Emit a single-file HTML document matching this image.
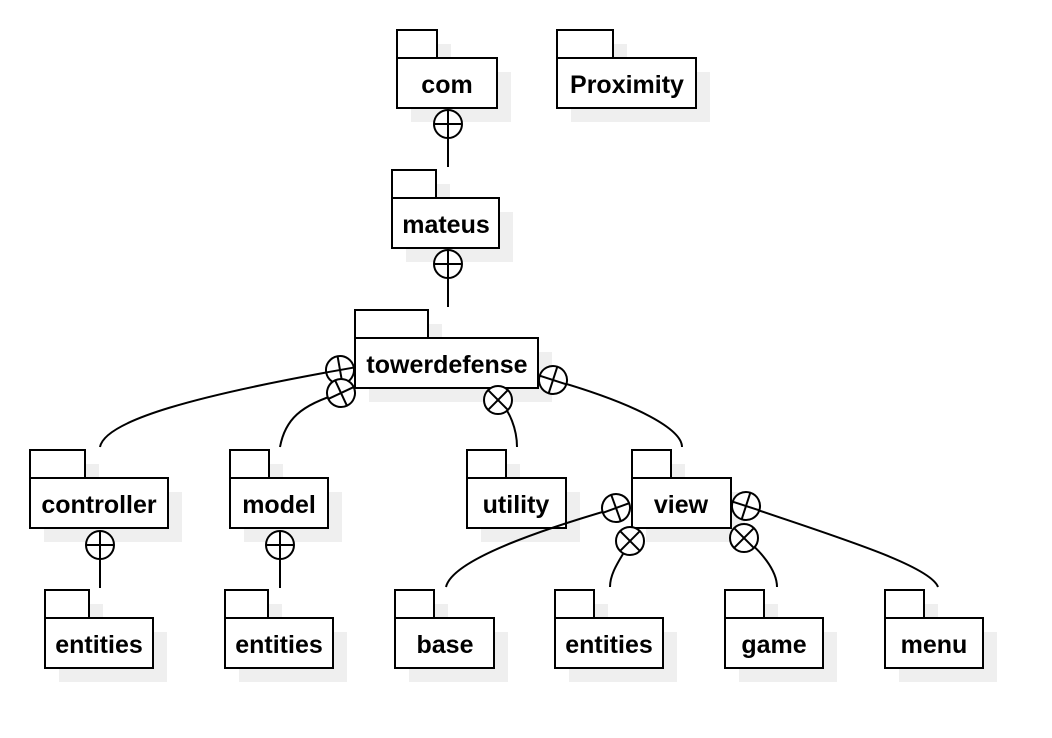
<!DOCTYPE html>
<html><head><style>
html,body{margin:0;padding:0;background:#fff;}
svg{display:block;}
text{font-family:"Liberation Sans",sans-serif;font-weight:bold;font-size:25px;}
</style></head><body>
<svg width="1052" height="738" viewBox="0 0 1052 738" xmlns="http://www.w3.org/2000/svg">
<defs>
<g id="c"><circle r="14" fill="#fff" stroke="#000" stroke-width="2"/><line x1="-14" y1="0" x2="14" y2="0" stroke="#000" stroke-width="2"/><line x1="0" y1="-14" x2="0" y2="14" stroke="#000" stroke-width="2"/></g>
</defs>
<g fill="#efefef">
<rect x="411" y="44" width="40" height="28"/><rect x="411" y="72" width="100" height="50"/>
<rect x="571" y="44" width="56" height="28"/><rect x="571" y="72" width="139" height="50"/>
<rect x="406" y="184" width="44" height="28"/><rect x="406" y="212" width="107" height="50"/>
<rect x="369" y="324" width="73" height="28"/><rect x="369" y="352" width="183" height="50"/>
<rect x="44" y="464" width="55" height="28"/><rect x="44" y="492" width="138" height="50"/>
<rect x="244" y="464" width="39" height="28"/><rect x="244" y="492" width="98" height="50"/>
<rect x="481" y="464" width="39" height="28"/><rect x="481" y="492" width="99" height="50"/>
<rect x="646" y="464" width="39" height="28"/><rect x="646" y="492" width="99" height="50"/>
<rect x="59" y="604" width="44" height="28"/><rect x="59" y="632" width="108" height="50"/>
<rect x="239" y="604" width="43" height="28"/><rect x="239" y="632" width="108" height="50"/>
<rect x="409" y="604" width="39" height="28"/><rect x="409" y="632" width="99" height="50"/>
<rect x="569" y="604" width="39" height="28"/><rect x="569" y="632" width="108" height="50"/>
<rect x="739" y="604" width="39" height="28"/><rect x="739" y="632" width="98" height="50"/>
<rect x="899" y="604" width="39" height="28"/><rect x="899" y="632" width="98" height="50"/>
</g>
<g fill="#fff" stroke="#000" stroke-width="2">
<rect x="397" y="30" width="40" height="28"/><rect x="397" y="58" width="100" height="50"/>
<rect x="557" y="30" width="56" height="28"/><rect x="557" y="58" width="139" height="50"/>
<rect x="392" y="170" width="44" height="28"/><rect x="392" y="198" width="107" height="50"/>
<rect x="355" y="310" width="73" height="28"/><rect x="355" y="338" width="183" height="50"/>
<rect x="30" y="450" width="55" height="28"/><rect x="30" y="478" width="138" height="50"/>
<rect x="230" y="450" width="39" height="28"/><rect x="230" y="478" width="98" height="50"/>
<rect x="467" y="450" width="39" height="28"/><rect x="467" y="478" width="99" height="50"/>
<rect x="632" y="450" width="39" height="28"/><rect x="632" y="478" width="99" height="50"/>
<rect x="45" y="590" width="44" height="28"/><rect x="45" y="618" width="108" height="50"/>
<rect x="225" y="590" width="43" height="28"/><rect x="225" y="618" width="108" height="50"/>
<rect x="395" y="590" width="39" height="28"/><rect x="395" y="618" width="99" height="50"/>
<rect x="555" y="590" width="39" height="28"/><rect x="555" y="618" width="108" height="50"/>
<rect x="725" y="590" width="39" height="28"/><rect x="725" y="618" width="98" height="50"/>
<rect x="885" y="590" width="39" height="28"/><rect x="885" y="618" width="98" height="50"/>
</g>
<g text-anchor="middle">
<text x="447" y="93">com</text>
<text x="627" y="93">Proximity</text>
<text x="446" y="233">mateus</text>
<text x="447" y="373">towerdefense</text>
<text x="99" y="513">controller</text>
<text x="279" y="513">model</text>
<text x="516" y="513">utility</text>
<text x="681" y="513">view</text>
<text x="99" y="653">entities</text>
<text x="279" y="653">entities</text>
<text x="445" y="653">base</text>
<text x="609" y="653">entities</text>
<text x="774" y="653">game</text>
<text x="934" y="653">menu</text>
</g>
<g fill="none" stroke="#000" stroke-width="2">
<line x1="448" y1="124" x2="448" y2="167"/>
<line x1="448" y1="264" x2="448" y2="307"/>
<line x1="100" y1="545" x2="100" y2="588"/>
<line x1="280" y1="545" x2="280" y2="588"/>
<path d="M100,447 C105,420 200,395 340,370"/>
<path d="M280,447 C285,420 300,405 341,393"/>
<path d="M517,447 C517,430 510,410 498,400"/>
<path d="M682,447 C682,430 640,405 553,380"/>
<path d="M446,587 C452,560 540,530 616,508"/>
<path d="M610,587 C610,570 624,555 630,541"/>
<path d="M777,587 C777,570 760,550 744,538"/>
<path d="M938,587 C930,565 830,535 746,506"/>
</g>
<use href="#c" x="448" y="124"/>
<use href="#c" x="448" y="264"/>
<use href="#c" x="100" y="545"/>
<use href="#c" x="280" y="545"/>
<use href="#c" transform="translate(340,370) rotate(-10)"/>
<use href="#c" transform="translate(341,393) rotate(-25)"/>
<use href="#c" transform="translate(498,400) rotate(45)"/>
<use href="#c" transform="translate(553,380) rotate(18)"/>
<use href="#c" transform="translate(616,508) rotate(-20)"/>
<use href="#c" transform="translate(630,541) rotate(45)"/>
<use href="#c" transform="translate(746,506) rotate(18)"/>
<use href="#c" transform="translate(744,538) rotate(45)"/>
</svg>
</body></html>
